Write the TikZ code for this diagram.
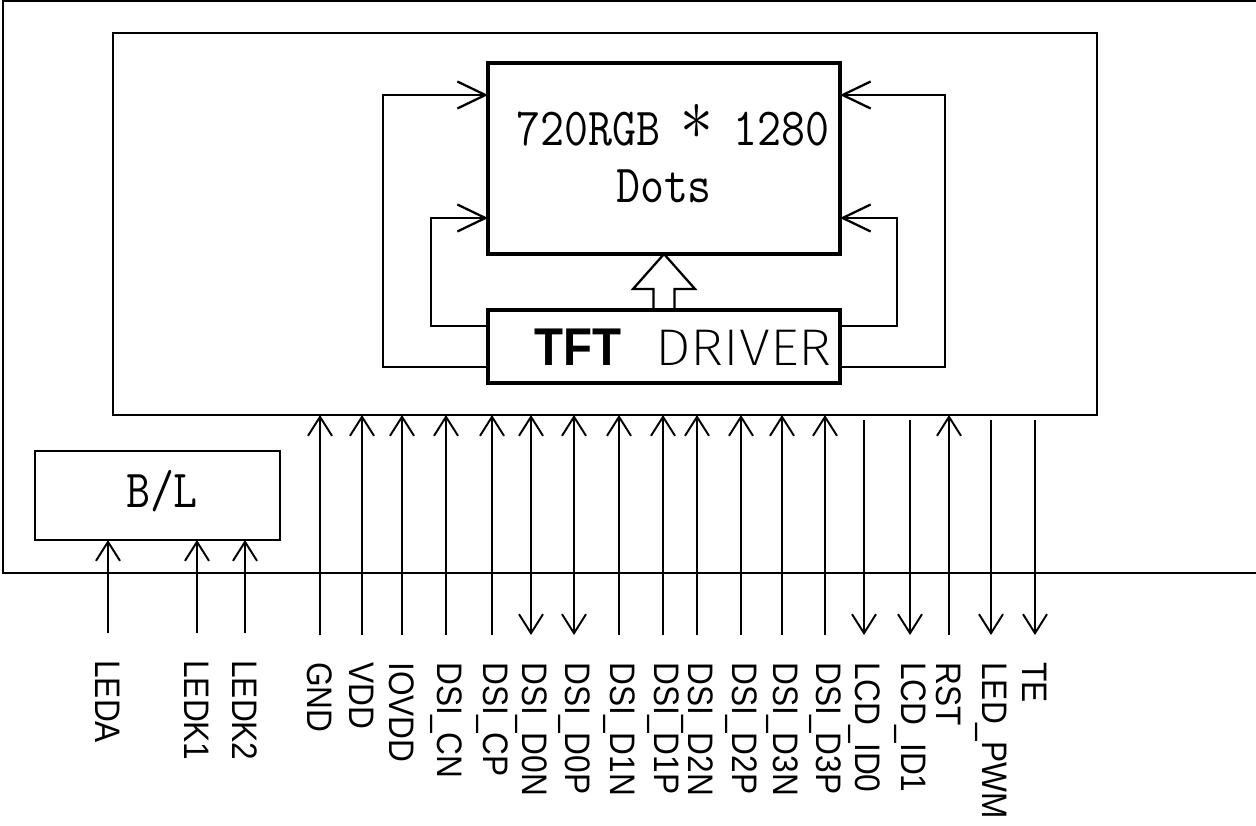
\documentclass[tikz,border=0pt]{standalone}
\usepackage{fontspec}
\usepackage{graphicx}
\usetikzlibrary{arrows.meta,calc}
\newfontfamily\pinfont{Liberation Sans}
\newfontfamily\thinfont{Fira Sans ExtraLight}
\newcommand{\pxu}{0.2mm}
\newcommand{\tall}[1]{\scalebox{1}[1.15]{#1}}

\begin{document}
\begin{tikzpicture}[x=0.2mm, y=-0.2mm,
  frame/.style={draw, line width=1.2pt},
  modbox/.style={draw, line width=1.1pt, outer sep=0pt},
  dispbox/.style={draw, line width=2.1pt, outer sep=0pt},
  blbox/.style={draw, line width=1.1pt, outer sep=0pt},
  dots/.style={font=\fontsize{26.5}{30}\selectfont\ttfamily, inner sep=0pt},
  loopwire/.style={line width=1.3pt, -{Straight Barb[length=5.6mm, width=5.4mm, line width=1.3pt]}},
  wire/.style={line width=1.1pt},
  pin u/.style={wire, -{Straight Barb[length=3.8mm, width=4.8mm, line width=1.1pt]}},
  pin d/.style={wire, {Straight Barb[length=3.8mm, width=4.8mm, line width=1.1pt]}-, shorten >=1mm},
  pin b/.style={wire, {Straight Barb[length=3.8mm, width=4.8mm, line width=1.1pt]}-{Straight Barb[length=3.8mm, width=4.8mm, line width=1.1pt]}},
  pinlbl/.style={font=\fontsize{18}{18}\selectfont\pinfont, rotate=-90, anchor=west, inner sep=0pt}
]
\useasboundingbox (0,0) rectangle (1256,825);

% Outer frame (open to the right)
\draw[frame] (1256,1) -- (3,1) -- (3,573) -- (1256,573);

% Module, panel and driver
\node[modbox, minimum width=984*\pxu, minimum height=382*\pxu] (mod) at (605,224) {};
\node[dispbox, minimum width=352*\pxu, minimum height=191*\pxu] (disp) at (664,158.5) {};
\node[dispbox, minimum width=352*\pxu, minimum height=73*\pxu] (drv) at (664,346.5) {};
\node[dots, anchor=base] (res) at (673,145) {\tall{720RGB \makebox[0.525em]{\raisebox{0.1em}{\scalebox{1.5}{$\ast$}}} 1280}};
\node[dots, anchor=base] (dotlbl) at (664,202) {\tall{Dots}};
\node[font=\fontsize{27}{30}\selectfont\pinfont\bfseries, anchor=base east, inner sep=0pt] (tft) at (622,365) {\scalebox{1}[1.12]{TFT}};
\node[font=\fontsize{28}{30}\selectfont\thinfont, anchor=base west, inner sep=0pt] (drvlbl) at (655,365) {\scalebox{1.15}[1.05]{DRIVER}};

% Hollow arrow driver -> panel
\draw[line width=1.3pt] ($(drv.north)+(-10.5,0)$) -- ++(0,-21) -- ++(-20.5,0)
  -- (disp.south) -- ++(31,35) -- ++(-20.5,0) -- ($(drv.north)+(10.5,0)$);

% Loops driver -> panel
\draw[loopwire] (drv.west |- 0,367) -| (383,95) -- (disp.west |- 0,95);
\draw[loopwire] (drv.west |- 0,326) -| (431,218) -- (disp.west |- 0,218);
\draw[loopwire] (drv.east |- 0,367) -| (945,95) -- (disp.east |- 0,95);
\draw[loopwire] (drv.east |- 0,326) -| (897,218) -- (disp.east |- 0,218);

% Backlight
\node[blbox, minimum width=245*\pxu, minimum height=89*\pxu] (bl) at (157.5,495.5) {};
\node[dots, anchor=base] (bltxt) at (162,507) {\tall{B/L}};
\foreach \x/\name in {108/LEDA, 197/LEDK1, 245/LEDK2} {
  \coordinate (b\x) at (\x,633);
  \draw[pin u] (b\x) -- (b\x |- bl.south);
  \node[pinlbl] (bl\x) at (\x,660) {\scalebox{1}[1.12]{\name}};
}

% Interface pins
\foreach \x/\name/\dir in {320/GND/u, 362/VDD/u, 402/IOVDD/u, 446/DSI\_CN/u, 492/DSI\_CP/u,
    531/DSI\_D0N/b, 574/DSI\_D0P/b, 619/DSI\_D1N/u, 663/DSI\_D1P/u, 697/DSI\_D2N/u,
    741/DSI\_D2P/u, 782/DSI\_D3N/u, 825/DSI\_D3P/u, 864/LCD\_ID0/d, 910/LCD\_ID1/d,
    949/RST/u, 991/LED\_PWM/d, 1035/TE/d} {
  \coordinate (p\x) at (\x,635);
  \draw[pin \dir] (p\x) -- (p\x |- mod.south);
  \node[pinlbl] (l\x) at (\x,662) {\scalebox{1}[1.12]{\name}};
}
\end{tikzpicture}
\end{document}
